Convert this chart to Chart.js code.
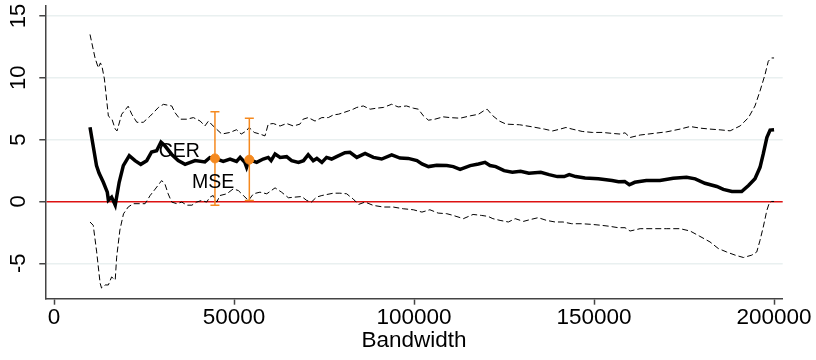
<!DOCTYPE html>
<html>
<head>
<meta charset="utf-8">
<script src="https://cdn.jsdelivr.net/npm/chart.js@4.4.1/dist/chart.umd.min.js"></script>
<style>
  html, body { margin: 0; padding: 0; background: #fff; }
  #wrap { width: 816px; height: 360px; }
</style>
</head>
<body>
<div id="wrap"><canvas id="chart" width="816" height="360"></canvas></div>
<script>
// Tick labels
const X_TICKS = [0, 50000, 100000, 150000, 200000];
const Y_TICKS = [-5, 0, 5, 10, 15];

// Point estimate by bandwidth
const estBw = [10000, 11800, 12500, 13700, 14800, 15100, 16000, 17000, 18100, 19250,
  20900, 22500, 24100, 25750, 27100, 28500, 29700, 30800, 32700, 34500,
  36400, 39200, 41900, 43300, 44700, 47000, 48900, 50700, 51700, 53000,
  53500, 54250, 56300, 58100, 59500, 60300, 61400, 62800, 64600, 66000,
  67900, 69300, 70600, 72000, 73000, 74400, 75700, 77100, 78500, 80800,
  82200, 84100, 86400, 88700, 91000, 93800, 96100, 98400, 100800, 102200,
  104000, 106300, 109100, 110900, 112800, 115600, 117900, 119700, 121100, 122700,
  125000, 127300, 129600, 131900, 135200, 137500, 139800, 141700, 143100, 144900,
  147500, 151200, 155000, 156800, 158500, 159800, 161300, 164500, 168300, 172000,
  175700, 178100, 180800, 184100, 185900, 188300, 191000, 192900, 194700, 196100,
  197000, 198000, 198900, 200000];
const estVal = [6.0, 2.9, 2.3, 1.55, 0.75, 0.1, 0.35, -0.3, 1.55, 2.9,
  3.7, 3.3, 3.0, 3.3, 4.0, 4.1, 4.8, 4.5, 3.8, 3.3,
  3.0, 3.3, 3.2, 3.55, 3.48, 3.24, 3.43, 3.24, 3.56, 3.16,
  2.76, 3.38, 3.16, 3.43, 3.56, 3.3, 3.84, 3.56, 3.62, 3.3,
  3.16, 3.3, 3.78, 3.3, 3.48, 3.16, 3.56, 3.43, 3.62, 3.94,
  3.97, 3.56, 3.89, 3.56, 3.43, 3.76, 3.51, 3.48, 3.3, 3.03,
  2.82, 2.92, 2.9, 2.82, 2.6, 2.9, 3.03, 3.16, 2.9, 2.82,
  2.49, 2.36, 2.44, 2.28, 2.36, 2.17, 2.01, 2.01, 2.17, 2.01,
  1.9, 1.83, 1.69, 1.6, 1.62, 1.35, 1.55, 1.69, 1.69, 1.87,
  1.96, 1.83, 1.47, 1.21, 0.97, 0.8, 0.8, 1.29, 1.83, 2.76,
  3.84, 5.17, 5.77, 5.8];

// Upper confidence bound
const upBw = [10000, 11400, 12300, 12900, 13400, 14000, 15100, 16100, 17000, 17500,
  18800, 20600, 21600, 23000, 24800, 26700, 29000, 30400, 32700, 33600,
  35000, 36900, 38700, 40600, 41900, 42900, 44200, 46600, 48900, 50700,
  52000, 53400, 54200, 55600, 57200, 58600, 59500, 60900, 62800, 64600,
  66500, 68300, 69200, 70600, 72500, 74400, 76200, 77600, 79000, 80400,
  81800, 83100, 84100, 85900, 87800, 89600, 91500, 93800, 95600, 97900,
  99800, 101200, 102600, 104000, 105800, 108100, 110000, 112800, 115600, 117900,
  119300, 120300, 121900, 123700, 125600, 129300, 132900, 136200, 138500, 140600,
  142200, 143900, 146700, 149500, 152300, 155100, 157200, 158600, 160000, 162800,
  166500, 170200, 173900, 176700, 179400, 182200, 185000, 187800, 190600, 192900,
  194700, 196100, 197500, 198400, 199300, 200000];
const upVal = [13.5, 11.6, 10.8, 11.2, 10.8, 9.9, 6.9, 6.65, 5.85, 5.7,
  7.05, 7.7, 7.05, 6.4, 6.4, 6.9, 7.6, 7.85, 7.72, 7.18,
  6.65, 6.65, 6.78, 6.5, 6.1, 6.5, 6.1, 5.45, 5.58, 5.8,
  5.45, 5.7, 5.98, 5.58, 5.45, 5.3, 6.25, 6.3, 6.1, 6.3,
  6.1, 6.25, 6.65, 6.78, 6.5, 6.78, 6.78, 7.0, 7.05, 7.18,
  7.32, 7.46, 7.6, 7.72, 7.46, 7.54, 7.6, 7.86, 7.64, 7.72,
  7.54, 7.46, 6.92, 6.57, 6.65, 6.84, 6.78, 6.73, 6.92, 7.05,
  7.32, 7.46, 6.92, 6.5, 6.25, 6.2, 6.03, 5.85, 5.7, 5.85,
  5.98, 5.85, 5.66, 5.58, 5.58, 5.5, 5.45, 5.55, 5.17, 5.37,
  5.5, 5.63, 5.85, 6.06, 5.93, 5.85, 5.79, 5.71, 6.11, 6.78,
  7.72, 8.93, 10.27, 11.34, 11.6, 11.6];

// Lower confidence bound
const loBw = [10000, 10900, 11850, 12800, 13200, 14200, 15100, 16000, 17000, 17400,
  18300, 19300, 20600, 22000, 23900, 25300, 26700, 28100, 29900, 30800,
  31700, 32700, 34100, 35500, 36900, 38300, 39600, 41000, 42400, 43300,
  44200, 45200, 46100, 48000, 49800, 51200, 52600, 54000, 55400, 57200,
  59100, 61400, 63200, 65100, 66900, 68800, 70200, 71500, 72900, 74400,
  77600, 79400, 81300, 82200, 83100, 84600, 86400, 88700, 91500, 94200,
  97000, 99800, 102200, 104400, 106700, 109100, 110900, 113700, 116400, 118800,
  120600, 121900, 123900, 126200, 128100, 130400, 132200, 134500, 136800, 139200,
  141400, 143800, 146500, 149300, 152100, 154400, 156700, 158600, 160000, 162800,
  166500, 170200, 173900, 176700, 179400, 182200, 184500, 186800, 189200, 191500,
  193800, 195200, 196100, 197000, 198000, 198700, 199300, 200000];
const loVal = [-1.66, -1.93, -4.08, -6.6, -7.0, -6.75, -6.75, -6.1, -6.35, -4.5,
  -2.3, -1.0, -0.45, -0.18, -0.18, -0.18, 0.48, 1.0, 1.69, 1.42,
  0.62, -0.05, -0.18, -0.05, -0.3, -0.3, -0.05, 0.08, -0.05, 0.35,
  0.48, -0.05, 0.48, 0.62, 1.02, 0.88, 0.48, 0.08, 0.62, 0.75,
  0.62, 1.1, 0.75, 0.3, 0.35, 0.4, 0.08, -0.05, 0.35, 0.48,
  0.67, 0.67, 0.62, 0.4, 0.2, -0.24, -0.05, -0.32, -0.45, -0.45,
  -0.59, -0.67, -0.86, -0.67, -0.94, -0.99, -1.13, -1.39, -1.05, -1.13,
  -1.21, -1.39, -1.53, -1.66, -1.39, -1.61, -1.47, -1.31, -1.53, -1.66,
  -1.66, -1.8, -1.8, -1.85, -1.93, -2.01, -2.12, -2.12, -2.39, -2.2,
  -2.2, -2.2, -2.2, -2.39, -2.82, -3.27, -3.8, -4.08, -4.34, -4.53,
  -4.34, -4.08, -3.14, -2.07, -0.72, -0.1, 0.0, 0.0];

// Optimal-bandwidth estimates with their intervals
const optLabels = ["CER", "MSE"];
const optBw = [44700, 54250];
const optVal = [3.48, 3.38];
const optLow = [-0.3, 0.08];
const optHigh = [7.26, 6.73];

const ORANGE = "#f5891e";
const FONT = "'Liberation Sans', Arial, sans-serif";

function zip(xs, ys) {
  return xs.map((x, i) => ({ x: x, y: ys[i] }));
}

// lower "order" is drawn on top
const datasets = [
  {
    data: zip(upBw, upVal),
    order: 4,
    borderColor: "#000",
    borderWidth: 1,
    borderDash: [6, 3],
    pointRadius: 0,
    tension: 0,
  },
  {
    data: zip(loBw, loVal),
    order: 4,
    borderColor: "#000",
    borderWidth: 1,
    borderDash: [6, 3],
    pointRadius: 0,
    tension: 0,
  },
  {
    data: zip(estBw, estVal),
    order: 3,
    borderColor: "#000",
    borderWidth: 3.5,
    pointRadius: 0,
    tension: 0,
  },
];

// one capped bar per optimal bandwidth
optBw.forEach((bw, i) => {
  datasets.push({
    data: [{ x: bw, y: optLow[i] }, { x: bw, y: optHigh[i] }],
    order: 2,
    borderColor: ORANGE,
    borderWidth: 1.5,
    pointStyle: "line",
    pointRadius: 4.5,
    pointBorderWidth: 1.5,
    pointBorderColor: ORANGE,
    tension: 0,
  });
});

datasets.push({
  data: zip(optBw, optVal),
  order: 1,
  showLine: false,
  pointRadius: 4.5,
  pointBackgroundColor: ORANGE,
  pointBorderColor: ORANGE,
  pointBorderWidth: 1,
});

const optLabelPlugin = {
  id: "optLabels",
  afterDatasetsDraw(chart) {
    const { ctx, scales } = chart;
    ctx.save();
    ctx.font = "19.5px " + FONT;
    ctx.fillStyle = "#000";
    ctx.textAlign = "right";
    ctx.textBaseline = "alphabetic";
    const dy = [-1, 28.5];
    optLabels.forEach((lab, i) => {
      const px = scales.x.getPixelForValue(optBw[i]);
      const py = scales.y.getPixelForValue(optVal[i]);
      ctx.fillText(lab, px - 15, py + dy[i]);
    });
    ctx.restore();
  },
};

function noOverflow(scale) {
  scale.paddingTop = 0;
  scale.paddingBottom = 0;
  scale.paddingLeft = 0;
  scale.paddingRight = 0;
}

new Chart(document.getElementById("chart"), {
  type: "line",
  data: { datasets: datasets },
  plugins: [optLabelPlugin],
  options: {
    responsive: false,
    animation: false,
    layout: { padding: { top: 5, right: 33.3, bottom: 0, left: 0 } },
    plugins: {
      legend: { display: false },
      tooltip: { enabled: false },
    },
    scales: {
      x: {
        type: "linear",
        min: -2420,
        max: 202400,
        afterBuildTicks: (scale) => {
          scale.ticks = X_TICKS.map((v) => ({ value: v }));
        },
        afterFit: (scale) => {
          scale.height = 61.3;
          noOverflow(scale);
        },
        border: { color: "#444", width: 1.5 },
        grid: {
          drawOnChartArea: false,
          drawTicks: true,
          tickLength: 6,
          tickColor: "#444",
          tickWidth: 1.5,
        },
        ticks: {
          autoSkip: false,
          maxRotation: 0,
          padding: 0,
          color: "#000",
          font: { family: FONT, size: 22.5 },
          callback: (v) => String(v),
        },
        title: {
          display: true,
          text: "Bandwidth",
          color: "#000",
          font: { family: FONT, size: 22.5 },
          padding: { top: 0, bottom: 6 },
        },
      },
      y: {
        type: "linear",
        min: -7.86,
        max: 15.8,
        afterBuildTicks: (scale) => {
          scale.ticks = Y_TICKS.map((v) => ({ value: v }));
        },
        afterFit: (scale) => {
          scale.width = 45.3;
          noOverflow(scale);
        },
        border: { color: "#444", width: 1.5 },
        grid: {
          color: (c) => (c.tick && c.tick.value === 0 ? "#dd1111" : "#e9f0f0"),
          lineWidth: 1.5,
          tickLength: 6,
          tickColor: "#444",
          tickWidth: 1.5,
        },
        ticks: {
          minRotation: 90,
          maxRotation: 90,
          crossAlign: "center",
          padding: 8,
          color: "#000",
          font: { family: FONT, size: 22 },
        },
      },
    },
  },
});
</script>
</body>
</html>
